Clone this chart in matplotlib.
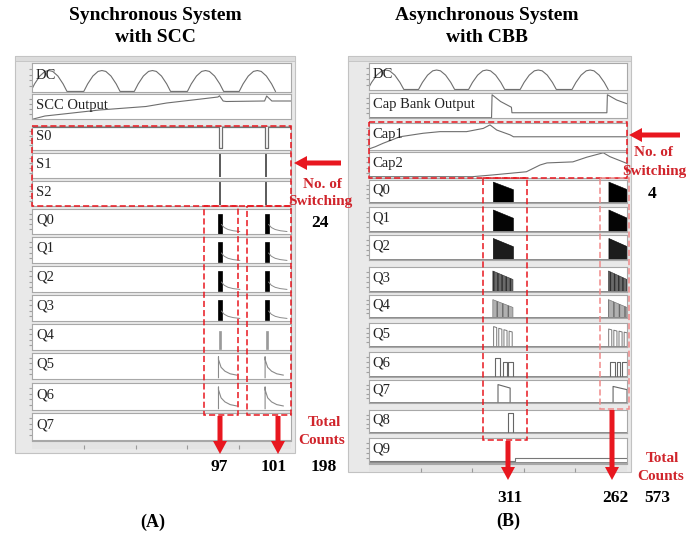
import numpy as np
import matplotlib.pyplot as plt
from matplotlib.patches import Rectangle, FancyArrow

plt.rcParams['font.family'] = ['Liberation Serif', 'DejaVu Serif']

W, H = 686, 540

# ---------------- data (shared time axis 0-100, every trace 0-1 inside its row)
dc_hump_dt = [-7, -5.5, -3.5, -1.5, 0, 1.5, 3.5, 5.5, 7]
dc_hump_y = [0.02, 0.28, 0.55, 0.71, 0.74, 0.71, 0.55, 0.28, 0.02]
dc_centers_a = [6.5, 27, 46.5, 67, 87]
dc_centers_b = [6.5, 26.2, 45.6, 65.6, 85.7]

# synchronous system (A)
labels_a = ['DC', 'SCC Output', 'S0', 'S1', 'S2',
            'Q0', 'Q1', 'Q2', 'Q3', 'Q4', 'Q5', 'Q6', 'Q7']
scc_t = [0.5, 5, 13, 26, 44, 52, 64.5, 71.8, 72.4, 73.8, 75, 89.8, 90.6, 92.6, 100]
scc_y = [0.0, 0.12, 0.21, 0.36, 0.5, 0.64, 0.79, 0.88, 0.93, 0.72, 0.7, 0.72, 0.92, 0.72, 0.72]
s0_t = [0, 72.3, 72.3, 73.5, 73.5, 90.0, 90.0, 91.2, 91.2, 100]
s0_y = [0.96, 0.96, 0.08, 0.08, 0.96, 0.96, 0.08, 0.08, 0.96, 0.96]
s_spike_t = [72.6, 90.5]
q_bar_a = [(72.0, 73.2), (90.0, 91.4)]
tail_dt = [0, 1, 2.5, 4.5, 7]
q_tail_y = [0.38, 0.26, 0.18, 0.13, 0.1]
spike_tail_y = [0.75, 0.45, 0.3, 0.2, 0.15]
q_kind_a = ['bar', 'bar', 'bar', 'bar', 'thin', 'spike', 'spike', 'none']
counts_a = ['97', '101']
total_a = '198'
switching_a = '24'

# asynchronous system (B)
labels_b = ['DC', 'Cap Bank Output', 'Cap1', 'Cap2',
            'Q0', 'Q1', 'Q2', 'Q3', 'Q4', 'Q5', 'Q6', 'Q7', 'Q8', 'Q9']
capbank_t = [0, 47.5, 47.7, 51, 55.2, 55.4, 92.2, 92.4, 96, 100]
capbank_y = [0.01, 0.01, 0.93, 0.66, 0.43, 0.21, 0.21, 0.93, 0.72, 0.57]
cap1_t = [0, 2.4, 5.5, 12, 21, 27.5, 37.8, 44.3, 46.9, 49.5, 54.7, 56, 100]
cap1_y = [0.04, 0.12, 0.25, 0.49, 0.62, 0.68, 0.68, 0.8, 0.93, 0.74, 0.56, 0.49, 0.49]
cap2_t = [0, 40, 48.2, 61, 66.3, 69, 79, 84.4, 90.8, 93.4, 100]
cap2_y = [0.05, 0.05, 0.12, 0.24, 0.5, 0.58, 0.62, 0.8, 0.97, 0.82, 0.56]
bursts_b = [(48.0, 55.8), (92.8, 100)]
burst_top_start = [0.93, 0.9, 0.88, 0.84, 0.8]
burst_top_end = [0.6, 0.57, 0.55, 0.5, 0.46]
q5_starts = [48.3, 50.3, 52.3, 54.3, 92.9, 94.9, 96.9, 98.9]
q5_tops = [0.85, 0.78, 0.72, 0.66, 0.75, 0.7, 0.66, 0.62]
q6_starts = [48.8, 52.0, 53.9, 93.4, 96.1, 98.0]
q6_ends = [50.8, 53.5, 55.8, 95.3, 97.3, 100]
q6_tops = [0.78, 0.62, 0.62, 0.62, 0.6, 0.6]
q7_starts = [50.0, 94.6]
q7_ends = [54.7, 100]
q7_top_start = [0.8, 0.72]
q7_top_end = [0.65, 0.58]
q8_pulse = (53.9, 55.8, 0.85)
q9_step = (56.6, 0.1, 0.22)
counts_b = ['311', '262']
total_b = '573'
switching_b = '4'

# ---------------- layout (pixels)
rows_a_top = [63, 94, 126, 153, 181, 209, 237, 266, 295, 324, 353, 383, 413]
rows_a_bot = [92, 119, 150, 178, 206, 234, 263, 292, 321, 350, 379, 410, 440]
rows_b_top = [63, 93, 123, 152, 180, 207, 235, 267, 295, 323, 352, 380, 410, 438]
rows_b_bot = [90, 118, 150, 178, 203, 232, 260, 292, 318, 347, 377, 403, 433, 463]
xa0, xa1 = 32, 291
xb0, xb1 = 369, 627

RED = '#e8171f'
TRED = '#d0242b'
TRACE = '#6e6e6e'

fig = plt.figure(figsize=(W / 100, H / 100), dpi=100)


def px_axes(x0, top, x1, bottom, z):
    ax = fig.add_axes([x0 / W, 1 - bottom / H, (x1 - x0) / W, (bottom - top) / H])
    ax.set_zorder(z)
    return ax


# background: the two screenshot frames
bg = px_axes(0, 0, W, H, 0)
bg.set_xlim(0, W)
bg.set_ylim(H, 0)
bg.axis('off')
for fx0, fy0, fx1, fy1 in [(15, 56, 295, 453), (348, 56, 631, 472)]:
    bg.add_patch(Rectangle((fx0, fy0), fx1 - fx0, fy1 - fy0, fc='#e9e9e9', ec='#c2c2c2', lw=0.8))
    bg.add_patch(Rectangle((fx0, fy0), fx1 - fx0, 5, fc='#dcdcdc', ec='#c2c2c2', lw=0.6))


def make_row(x0, x1, top, bot, label):
    ax = px_axes(x0, top, x1, bot, 1)
    ax.set_xlim(0, 100)
    ax.set_ylim(0, 1)
    ax.set_facecolor('white')
    for s in ax.spines.values():
        s.set_color('#a8a8a8')
        s.set_linewidth(0.8)
    ax.set_xticks([])
    ax.set_yticks([0.2, 0.4, 0.6, 0.8])
    ax.tick_params(axis='y', length=2, color='#a0a0a0', labelleft=False)
    ax.text(0.015, 0.56, label, transform=ax.transAxes, fontsize=10.5,
            va='center', ha='left', color='#222222')
    return ax


def dc_trace(centers):
    t, y = [], []
    for c in centers:
        t += [c + d for d in dc_hump_dt]
        y += dc_hump_y
    return t, y


def xaxis_strip(x0, x1, top):
    ax = px_axes(x0, top, x1, top + 8, 1)
    ax.set_xlim(0, 100)
    ax.set_facecolor('#e4e4e4')
    for k, s in ax.spines.items():
        s.set_visible(k == 'top')
        s.set_color('#a8a8a8')
    ax.set_yticks([])
    ax.set_xticks([20, 40, 60, 80])
    ax.tick_params(axis='x', length=3, color='#9a9a9a', labelbottom=False, direction='in')


# ---------------- panel A
axs_a = [make_row(xa0, xa1, t, b, lab) for t, b, lab in zip(rows_a_top, rows_a_bot, labels_a)]
t, y = dc_trace(dc_centers_a)
axs_a[0].plot(t, y, color=TRACE, lw=0.8)
axs_a[1].plot(scc_t, scc_y, color=TRACE, lw=0.8)
axs_a[2].plot(s0_t, s0_y, color=TRACE, lw=0.9)
for ax in axs_a[3:5]:
    ax.vlines(s_spike_t, 0.03, 0.97, color='#5a5a5a', lw=1.4)
for ax, kind in zip(axs_a[5:], q_kind_a):
    for t0, t1 in q_bar_a:
        if kind == 'bar':
            ax.add_patch(Rectangle((t0, 0.02), t1 - t0, 0.78, fc='black', ec='black', lw=0.5))
            ax.plot([t1 + d for d in tail_dt], q_tail_y, color='#8a8a8a', lw=0.7)
        elif kind == 'thin':
            ax.add_patch(Rectangle((t0 + 0.2, 0.02), (t1 - t0) * 0.6, 0.72, fc='#9a9a9a', ec='#9a9a9a', lw=0.5))
        elif kind == 'spike':
            ax.plot([t0, t0] + [t0 + d for d in tail_dt], [0.05, 0.85] + spike_tail_y,
                    color='#8a8a8a', lw=0.8)
xaxis_strip(xa0, xa1, 441)

# ---------------- panel B
axs_b = [make_row(xb0, xb1, t, b, lab) for t, b, lab in zip(rows_b_top, rows_b_bot, labels_b)]
t, y = dc_trace(dc_centers_b)
axs_b[0].plot(t, y, color=TRACE, lw=0.8)
axs_b[1].plot(capbank_t, capbank_y, color=TRACE, lw=0.8)
axs_b[2].plot(cap1_t, cap1_y, color=TRACE, lw=0.8)
axs_b[3].plot(cap2_t, cap2_y, color=TRACE, lw=0.8)
for ax in axs_b[4:]:
    ax.plot([0, 100], [0.05, 0.05], color='#8a8a8a', lw=0.7)
burst_face = ['#000000', '#050505', '#1c1c1c', '#6a6a6a', '#b0b0b0']
burst_edge = ['#000000', '#000000', '#000000', '#303030', '#6a6a6a']
burst_hatch = [None, None, None, '||||', '|||']
for i, ax in enumerate(axs_b[4:9]):
    for t0, t1 in bursts_b:
        ax.fill_between([t0, t1], [0.03, 0.03], [burst_top_start[i], burst_top_end[i]],
                        facecolor=burst_face[i], edgecolor=burst_edge[i],
                        hatch=burst_hatch[i], lw=0.4)
for t0, top in zip(q5_starts, q5_tops):
    axs_b[9].plot([t0, t0, t0 + 1.2, t0 + 1.2], [0.05, top, top * 0.95, 0.05], color='#777777', lw=0.7)
for t0, t1, top in zip(q6_starts, q6_ends, q6_tops):
    axs_b[10].plot([t0, t0, t1, t1], [0.05, top, top, 0.05], color='#666666', lw=0.8)
for t0, t1, h0, h1 in zip(q7_starts, q7_ends, q7_top_start, q7_top_end):
    axs_b[11].plot([t0, t0, t1, t1], [0.05, h0, h1, 0.05], color='#666666', lw=0.8)
t0, t1, top = q8_pulse
axs_b[12].plot([t0, t0, t1, t1], [0.05, top, top, 0.05], color='#666666', lw=0.8)
ts, lo, hi = q9_step
axs_b[13].plot([0, ts, ts, 100], [lo, lo, hi, hi], color='#777777', lw=0.8)
xaxis_strip(xb0, xb1, 464)

# ---------------- overlay: titles, dashed boxes, arrows, counts
ov = px_axes(0, 0, W, H, 5)
ov.set_xlim(0, W)
ov.set_ylim(H, 0)
ov.axis('off')
ov.patch.set_visible(False)

bold = dict(fontweight='bold', ha='center', va='center')
ov.text(155, 15, 'Synchronous System', fontsize=14, **bold)
ov.text(155, 38, 'with SCC', fontsize=14, **bold)
ov.text(487, 15, 'Asynchronous System', fontsize=14, **bold)
ov.text(487, 38, 'with CBB', fontsize=14, **bold)
ov.text(153, 522, '(A)', fontsize=13, **bold)
ov.text(508, 521, '(B)', fontsize=13, **bold)


def dashed(x0, y0, x1, y1, color=RED):
    ov.add_patch(Rectangle((x0, y0), x1 - x0, y1 - y0, fill=False, ec=color,
                           lw=1.1, ls=(0, (4, 2))))


def arrow(x, y, dx, dy):
    ov.add_patch(FancyArrow(x, y, dx, dy, width=5, head_width=14, head_length=13,
                            length_includes_head=True, color=RED, lw=0))


# panel A annotations
dashed(xa0, 126, xa1, 206)
dashed(204, 206, 238, 415)
dashed(247, 206, 291, 415)
arrow(341, 163, -47, 0)
ov.text(322, 185, 'No. of', fontsize=11, color=TRED, **bold)
ov.text(320, 201, 'Switching', fontsize=11, color=TRED, **bold)
ov.text(320, 223, switching_a, fontsize=12.5, **bold)
arrow(220, 416, 0, 38)
arrow(278, 416, 0, 38)
ov.text(324, 423, 'Total', fontsize=11, color=TRED, **bold)
ov.text(322, 441, 'Counts', fontsize=11, color=TRED, **bold)
for xc, txt in zip([219, 274], counts_a):
    ov.text(xc, 467, txt, fontsize=12.5, **bold)
ov.text(324, 467, total_a, fontsize=12.5, **bold)

# panel B annotations
dashed(xb0, 122, xb1, 178)
dashed(483, 178, 527, 440)
dashed(600, 178, 629, 409, color='#f08a8a')
arrow(680, 135, -51, 0)
ov.text(653, 153, 'No. of', fontsize=11, color=TRED, **bold)
ov.text(654, 171, 'Switching', fontsize=11, color=TRED, **bold)
ov.text(652, 194, switching_b, fontsize=12.5, **bold)
arrow(508, 441, 0, 39)
arrow(612, 410, 0, 70)
ov.text(662, 458, 'Total', fontsize=11, color=TRED, **bold)
ov.text(661, 476, 'Counts', fontsize=11, color=TRED, **bold)
for xc, txt in zip([510, 615], counts_b):
    ov.text(xc, 498, txt, fontsize=12.5, **bold)
ov.text(657, 498, total_b, fontsize=12.5, **bold)

fig.savefig('out.png', dpi=100)
